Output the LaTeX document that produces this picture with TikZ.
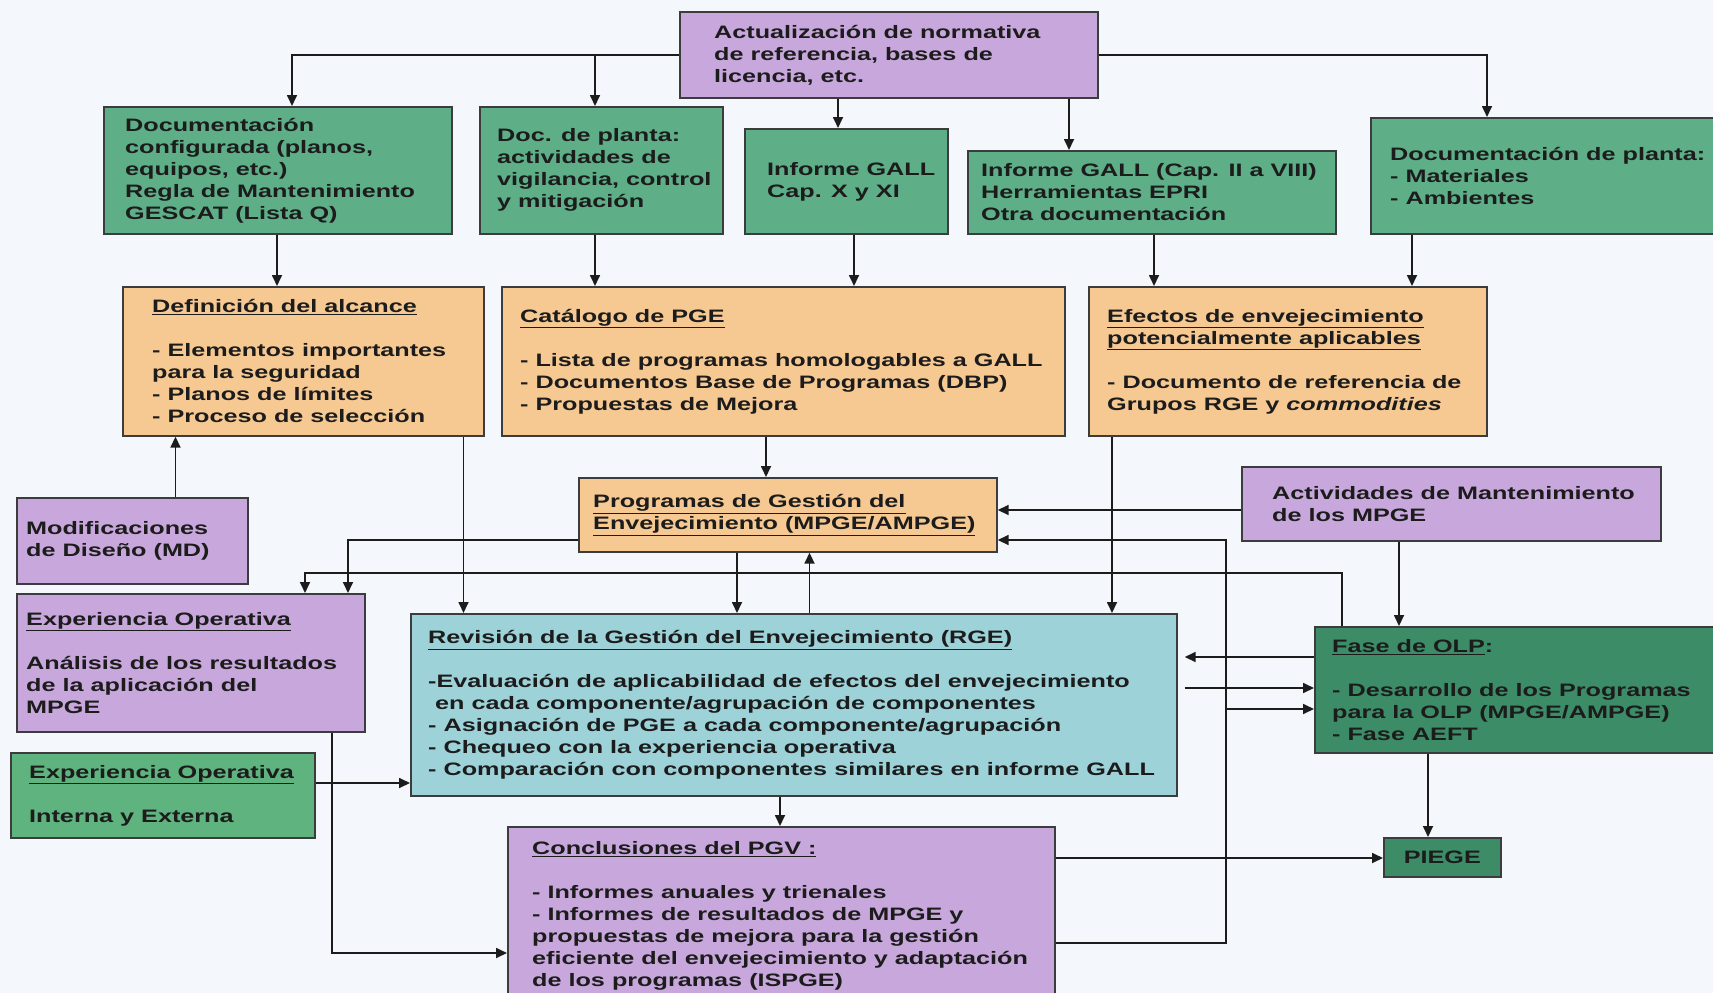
\documentclass[tikz,border=0pt]{standalone}
\usepackage{fontspec}
\setmainfont{Liberation Sans}[FakeStretch=1.4]
\usetikzlibrary{arrows.meta,calc}
\definecolor{bg}{HTML}{F4F7FB}
\definecolor{purp}{HTML}{C8A8DC}
\definecolor{gr}{HTML}{5EAE88}
\definecolor{org}{HTML}{F6C993}
\definecolor{cya}{HTML}{9DD2D9}
\definecolor{dgr}{HTML}{3D8C68}
\definecolor{egr}{HTML}{5FB37F}
\definecolor{bord}{HTML}{3C3C3C}
\definecolor{ink}{HTML}{1C1C1C}
\tikzset{
 box/.style={draw=bord, line width=1.7pt, rectangle, inner sep=0pt, anchor=north west},
 txt/.style={anchor=west, align=left, inner sep=0pt, text=ink, font=\bfseries\fontsize{18}{22}\selectfont},
 arr/.style={draw=ink, line width=1.7pt, -{Triangle[length=11pt,width=10pt]}},
}
\newcommand{\bx}[8]{%
 \node[box, fill=#6, minimum width=#4pt-#2pt, minimum height=#5pt-#3pt] (#1) at (#2,#3) {};
 \node[txt] (#1-t) at ([xshift=#7pt]#1.west) {#8};
}
\begin{document}
\begin{tikzpicture}[x=1pt,y=-1pt]
\fill[bg] (0,0) rectangle (1713,993);
\clip (0,0) rectangle (1713,993);

\bx{act}{679}{11}{1097}{97}{purp}{35}{Actualización de normativa\\de referencia, bases de\\licencia, etc.}
\bx{doc1}{103}{106}{451}{233}{gr}{22}{Documentación\\configurada (planos,\\equipos, etc.)\\Regla de Mantenimiento\\GESCAT (Lista Q)}
\bx{doc2}{479}{106}{722}{233}{gr}{18}{Doc. de planta:\\actividades de\\vigilancia, control\\y mitigación}
\bx{doc3}{744}{128}{947}{233}{gr}{23}{Informe GALL\\Cap. X y XI}
\bx{doc4}{967}{150}{1335}{233}{gr}{14}{Informe GALL (Cap. II a VIII)\\Herramientas EPRI\\Otra documentación}
\bx{doc5}{1370}{117}{1716}{233}{gr}{20}{Documentación de planta:\\- Materiales\\- Ambientes}
\bx{def}{122}{286}{483}{435}{org}{30}{\underline{Definición del alcance}\\[22pt]- Elementos importantes\\para la seguridad\\- Planos de límites\\- Proceso de selección}
\bx{cat}{501}{286}{1064}{435}{org}{19}{\underline{Catálogo de PGE}\\[22pt]- Lista de programas homologables a GALL\\- Documentos Base de Programas (DBP)\\- Propuestas de Mejora}
\bx{efe}{1088}{286}{1486}{435}{org}{19}{\underline{Efectos de envejecimiento}\\\underline{potencialmente aplicables}\\[22pt]- Documento de referencia de\\Grupos RGE y \textit{commodities}}
\bx{mod}{16}{497}{247}{583}{purp}{10}{Modificaciones\\de Diseño (MD)}
\bx{prog}{578}{477}{996}{551}{org}{15}{\underline{Programas de Gestión del}\\\underline{Envejecimiento (MPGE/AMPGE)}}
\bx{act2}{1241}{466}{1660}{540}{purp}{31}{Actividades de Mantenimiento\\de los MPGE}
\bx{expP}{16}{593}{364}{731}{purp}{10}{\underline{Experiencia Operativa}\\[22pt]Análisis de los resultados\\de la aplicación del\\MPGE}
\bx{expG}{10}{752}{314}{837}{egr}{19}{\underline{Experiencia Operativa}\\[22pt]Interna y Externa}
\bx{rge}{410}{613}{1176}{795}{cya}{18}{\underline{Revisión de la Gestión del Envejecimiento (RGE)}\\[22pt]-Evaluación de aplicabilidad de efectos del envejecimiento\\\hspace*{7pt}en cada componente/agrupación de componentes\\- Asignación de PGE a cada componente/agrupación\\- Chequeo con la experiencia operativa\\- Comparación con componentes similares en informe GALL}
\bx{fase}{1314}{626}{1716}{752}{dgr}{18}{\underline{Fase de OLP}:\\[22pt]- Desarrollo de los Programas\\para la OLP (MPGE/AMPGE)\\- Fase AEFT}
\bx{conc}{507}{826}{1054}{1005}{purp}{25}{\underline{Conclusiones del PGV :}\\[22pt]- Informes anuales y trienales\\- Informes de resultados de MPGE y\\propuestas de mejora para la gestión\\eficiente del envejecimiento y adaptación\\de los programas (ISPGE)}
\node[box, fill=dgr, minimum width=117pt, minimum height=39pt] (piege) at (1383,837) {};
\node[txt, anchor=center] (piege-t) at (piege.center) {PIEGE};

% columns and rows
\coordinate (X292) at (292,0); \coordinate (X595) at (595,0);
\coordinate (X838) at (838,0); \coordinate (X1069) at (1069,0);
\coordinate (X1487) at (1487,0); \coordinate (X277) at (277,0);
\coordinate (X854) at (854,0); \coordinate (X1154) at (1154,0);
\coordinate (X1412) at (1412,0); \coordinate (X175) at (175.5,0);
\coordinate (X463) at (463.5,0); \coordinate (X766) at (766,0);
\coordinate (X737) at (737,0); \coordinate (X809) at (809.5,0);
\coordinate (X1112) at (1112,0); \coordinate (X1399) at (1399,0);
\coordinate (X348) at (348,0); \coordinate (X305) at (305,0);
\coordinate (X1342) at (1342,0); \coordinate (X1226) at (1226,0);
\coordinate (X332) at (332,0); \coordinate (X780) at (780,0);
\coordinate (X1428) at (1428,0);
\coordinate (Y510) at (0,510); \coordinate (Y540) at (0,540);
\coordinate (Y572) at (0,572.7); \coordinate (Y709) at (0,709);
\coordinate (Y943) at (0,943); \coordinate (Y953) at (0,953);
\coordinate (Y783) at (0,783); \coordinate (Y657) at (0,657);
\coordinate (Y688) at (0,688); \coordinate (Y858) at (0,858);

\draw[arr] (act.west) -| (doc1.north -| X292);
\draw[arr] (act.west -| X595) -- (doc2.north -| X595);
\draw[arr] (act.south -| X838) -- (doc3.north -| X838);
\draw[arr] (act.south -| X1069) -- (doc4.north -| X1069);
\draw[arr] (act.east) -| (doc5.north -| X1487);
\draw[arr] (doc1.south -| X277) -- (def.north -| X277);
\draw[arr] (doc2.south -| X595) -- (cat.north -| X595);
\draw[arr] (doc3.south -| X854) -- (cat.north -| X854);
\draw[arr] (doc4.south -| X1154) -- (efe.north -| X1154);
\draw[arr] (doc5.south -| X1412) -- (efe.north -| X1412);
\draw[arr] (mod.north -| X175) -- (def.south -| X175);
\draw[arr] (def.south -| X463) -- (rge.north -| X463);
\draw[arr] (cat.south -| X766) -- (prog.north -| X766);
\draw[arr] (prog.south -| X737) -- (rge.north -| X737);
\draw[arr] (rge.north -| X809) -- (prog.south -| X809);
\draw[arr] (efe.south -| X1112) -- (rge.north -| X1112);
\draw[arr] (act2.west |- Y510) -- (prog.east |- Y510);
\draw[arr] (act2.south -| X1399) -- (fase.north -| X1399);
\draw[arr] (prog.west |- Y540) -| (expP.north -| X348);
\draw[arr] (fase.north -| X1342) |- (Y572 -| X305) -- (expP.north -| X305);
\draw[arr] (conc.east |- Y943) -| (X1226 |- Y540) -- (prog.east |- Y540);
\draw[arr] (X1226 |- Y709) -- (fase.west |- Y709);
\draw[arr] (expP.south -| X332) |- (conc.west |- Y953);
\draw[arr] (expG.east |- Y783) -- (rge.west |- Y783);
\draw[arr] (rge.south -| X780) -- (conc.north -| X780);
\draw[arr, shorten >=7pt] (fase.west |- Y657) -- (rge.east |- Y657);
\draw[arr, shorten <=7pt] (rge.east |- Y688) -- (fase.west |- Y688);
\draw[arr] (fase.south -| X1428) -- (piege.north -| X1428);
\draw[arr] (conc.east |- Y858) -- (piege.west |- Y858);
\end{tikzpicture}
\end{document}
